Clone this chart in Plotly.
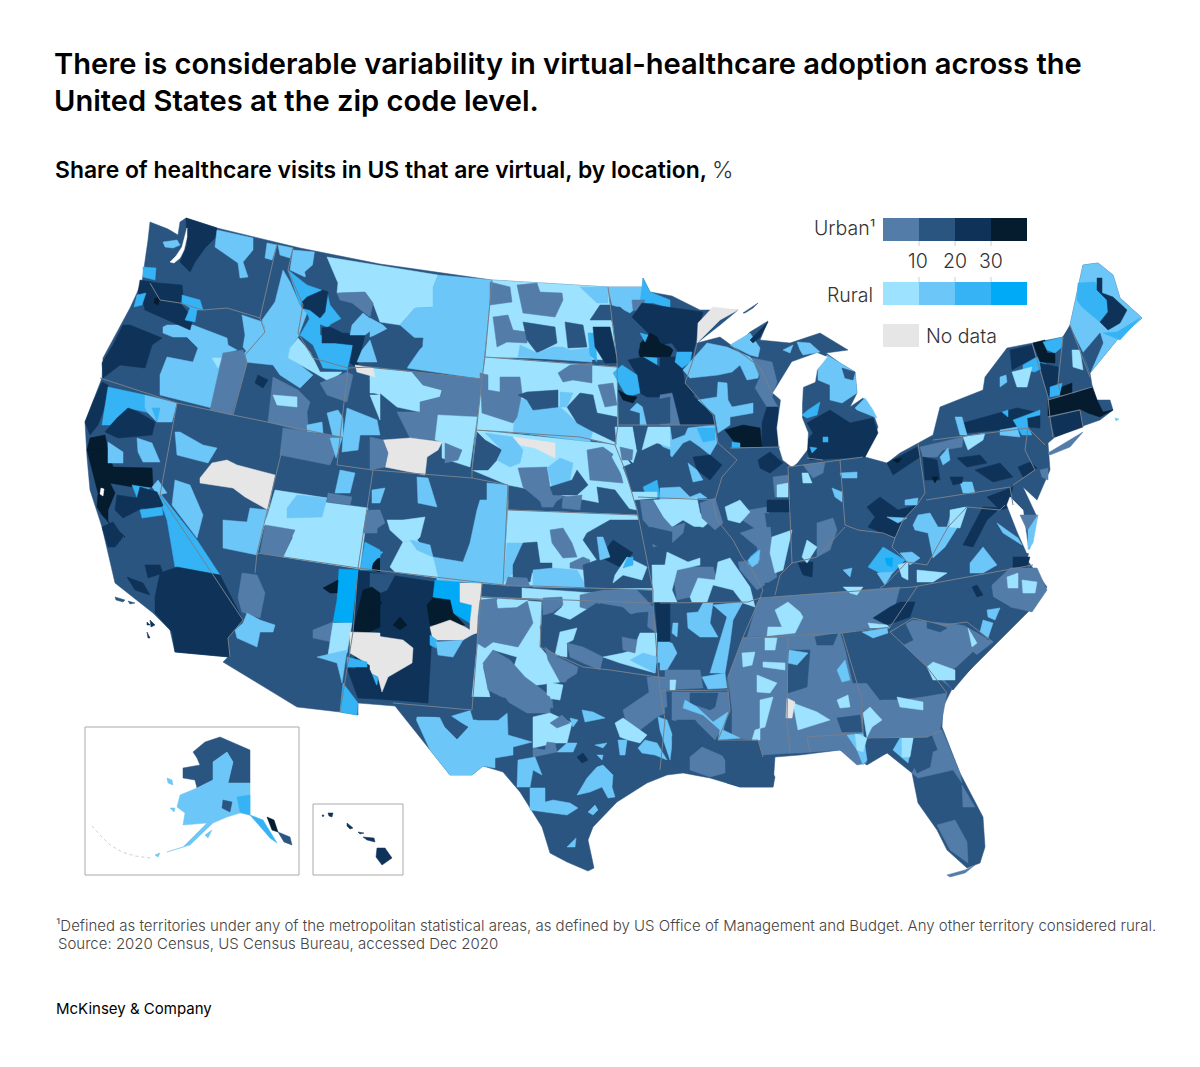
import plotly.graph_objects as go

TITLE = ["There is considerable variability in virtual-healthcare adoption across the",
         "United States at the zip code level."]
SUBTITLE_BOLD = "Share of healthcare visits in US that are virtual, by location,"
SUBTITLE_UNIT = "%"
FOOTNOTE = ["¹Defined as territories under any of the metropolitan statistical areas, as defined by US Office of Management and Budget. Any other territory considered rural.",
            "Source: 2020 Census, US Census Bureau, accessed Dec 2020"]
CREDIT = "McKinsey & Company"
legend_ticks = ["10", "20", "30"]
urban_classes = ["u1", "u2", "u3", "u4"]
rural_classes = ["r1", "r2", "r3", "r4"]

COLORS = {"u1": "#547ca8", "u2": "#2a5580", "u3": "#0f3358", "u4": "#051b2e",
          "r1": "#9de3ff", "r2": "#6cc6f7", "r3": "#35b3f5", "r4": "#00aaf7",
          "na": "#e6e6e6", "w": "#ffffff"}

# map outlines, in map units
us_outline = ("150,222 168,229 178,235 180,222 186,218 217,228 300,248 380,264 492,280 608,287 643,287 643,278 650,292 672,296 700,310 738,310 "
 "720,325 697,343 720,337 735,348 750,332 768,321 760,340 790,343 820,333 848,350 826,353 840,363 855,372 857,393 850,407 863,398 873,413 878,427 865,457 "
 "887,463 900,453 918,443 933,435 940,407 983,390 985,377 1007,348 1033,343 1063,337 1070,325 1083,265 1098,263 1113,275 1120,298 1142,318 1117,340 1090,373 "
 "1092,385 1097,400 1110,400 1113,410 1100,420 1080,427 1055,437 1048,443 1050,470 1037,500 1023,487 1037,517 1027,560 1047,587 1030,610 1003,637 977,663 953,687 943,707 942,727 "
 "960,773 983,817 985,847 980,863 967,868 947,850 937,830 918,803 912,773 887,753 867,765 840,750 800,755 775,757 773,787 740,787 710,778 683,773 667,775 647,783 "
 "617,802 593,827 588,840 594,868 588,871 567,862 550,853 542,827 520,792 503,772 483,766 472,775 450,775 430,750 395,706 358,703 358,715 340,712 297,707 223,662 228,657 175,652 170,630 153,613 115,583 "
 "102,527 90,490 87,457 85,422 102,378 103,358 130,308 142,282 148,240")
long_island = "1048,453 1077,435 1083,432 1070,447 1050,455"
aleutian_chain = "92,826 100,835 110,845 122,852 135,856 150,858"

state_lines = [
 "277,244 260,318", "150,283 160,300 180,303 203,310 227,308 260,318 265,332 245,355 247,363 233,415",
 "100,378 177,403 233,415 340,437", "293,248 288,270 303,305 298,333 313,358 348,368 340,437 337,465 373,470",
 "348,368 370,367 482,379", "492,280 485,357 482,379 476,430 472,470 472,478", "373,470 472,478 508,485 503,585",
 "177,403 160,495 243,620 228,638 230,657", "282,450 257,553 255,573", "257,553 358,568", "373,470 358,568 353,632 340,712",
 "358,568 503,585 653,590", "485,357 617,367", "608,287 617,360 618,425 615,445 625,470 637,510 653,590 653,603 658,670 660,691 665,720 660,770",
 "476,430 580,437 615,445", "508,485 508,510 637,515", "618,425 715,425", "697,343 693,360 685,383 713,415 715,425 718,443 737,460 722,477 715,500",
 "638,497 715,500 713,503 717,520 733,540 742,557 752,570 763,590 760,598", "730,448 780,447", "482,597 542,600 540,647 583,667 610,670 665,678", "482,583 472,710 393,703",
 "482,597 653,603", "660,603 748,602 760,598 743,637 728,677 728,690 660,691", "730,710 718,740 758,740 763,757", "728,690 730,710",
 "743,638 842,633 862,700 863,733 807,737 810,752", "788,637 787,723 790,753", "760,598 913,587 1033,565", "917,587 890,627 842,633",
 "890,632 913,618 943,625 967,622 993,642", "890,632 927,667 947,693", "867,738 927,737 942,730",
 "788,467 840,460 863,457", "788,467 792,553 792,563", "840,460 845,525 858,530 883,533 895,538 903,520 917,505 925,493 923,478 918,443",
 "845,527 833,540 817,557 792,563 780,575 775,595", "926,500 1010,487 1013,505", "933,440 1028,428 1025,450 1035,470 1013,485", "1028,428 1045,445",
 "1032,343 1048,397 1050,418 1053,437", "1048,400 1092,387", "1048,417 1080,410 1083,427", "1063,337 1058,383 1060,390", "1070,325 1090,377",
 "895,538 892,547 907,562 885,585 880,588", "907,562 927,565 948,527 967,507 1000,510 1005,505", "772,393 760,367 730,345",
 "823,460 807,458"]

broad_regions = [
 ("u1","743,638 840,633 862,700 863,733 810,737 793,753 760,755 758,740 732,738 732,710 728,677"),
 ("u1","790,717 863,733 867,763 857,765 840,750 800,753 788,753"),
 ("u1","853,683 867,683 880,700 900,700 923,697 947,693 940,730 927,737 867,738 862,700"),
 ("u1","760,598 900,587 890,625 842,633 747,637 757,603"),
 ("u1","890,632 913,620 963,625 993,642 970,660 953,690 927,667"),
 ("u1","990,587 1010,568 1037,568 1047,590 1032,612 1010,607 993,597"),
 ("u1","930,730 942,730 960,773 962,783 953,770 940,773 918,778 912,773 920,757 938,750"),
 ("u1","962,785 975,807 963,807"),
 ("u1","937,825 955,820 967,842 968,863 950,850"),
 ("r1","508,510 637,515 653,590 503,585"),
 ("r1","476,430 620,445 628,480 637,510 508,485 472,470"),
 ("r1","485,357 617,367 618,425 615,445 580,437 476,430 482,379"),
 ("r1","492,280 608,287 617,360 485,357"),
 ("r2","1070,325 1083,265 1098,263 1113,275 1120,298 1142,318 1117,340 1090,373"),
 ("u3","358,570 435,582 428,703 393,700 358,695 352,630"),
]

northwest_regions = [
 ("u3","186,218 217,228 215,238 205,248 195,262 190,272 180,262 187,245"),
 ("r2","217,230 253,238 253,250 243,262 248,277 240,278 238,263 227,255 215,247"),
 ("r2","267,243 277,245 272,260 265,258"), ("r2","278,245 293,248 290,258 280,255"),
 ("r2","283,270 290,282 300,305 307,313 298,337 290,348 288,358 300,365 313,375 300,388 280,375 273,365 245,362 243,355 265,328 262,320 275,302 280,282"),
 ("r1","290,348 298,338 310,352 320,372 342,372 330,382 313,372 300,365 288,358"),
 ("r2","242,315 263,322 265,330 247,352 243,347 245,335"),
 ("r2","163,327 167,325 193,325 227,338 228,345 237,350 223,355 212,408 160,395 160,375 167,357 193,362 198,348 187,337 173,337 163,333"),
 ("r1","212,358 222,358 218,368"),
 ("u1","223,353 243,350 247,363 232,415 210,410"),
 ("u3","130,325 162,338 152,345 145,368 120,365 103,378 102,363 113,345 123,325"),
 ("u3","140,280 158,283 182,285 183,295 180,303 193,318 190,330 163,318 145,310 143,302 138,292"),
 ("u4","155,298 160,298 158,305 154,303"),
 ("r3","137,295 146,293 142,305 134,307"),
 ("r3","182,295 200,300 203,310 197,310 195,322 185,320 190,308 182,303"),
 ("r3","143,267 156,268 155,280 143,277"),
 ("r2","163,242 177,240 180,245 173,248 165,247"),
 ("w","182,247 185,236 187,228 187,237 184,250 180,258 174,263 170,262 176,256"),
 ("r3","288,270 307,285 327,292 330,305 342,320 327,327 310,320 307,313 300,305"),
 ("r2","293,250 315,252 313,268 305,277 290,270"),
 ("u2","315,252 327,257 338,283 333,293 323,293 320,280 307,280 305,272 313,265"),
 ("u3","302,302 307,297 323,290 328,292 325,312 320,318 310,310 302,308"),
 ("r3","310,318 320,320 320,335 353,345 347,370 323,368 313,345 300,335"),
 ("u3","322,328 330,327 343,333 365,335 357,368 350,363 353,345 335,343 322,343"),
 ("r1","327,257 438,275 433,288 433,307 415,308 400,325 380,322 373,303 365,292 337,293 338,283"),
 ("u2","333,293 340,300 352,303 343,333 330,325 343,318 337,308"),
 ("u1","337,293 365,292 373,303 370,317 352,303 340,300"),
 ("r2","352,325 363,313 378,325 365,335 350,335"),
 ("r2","438,275 492,280 482,379 407,368 423,345 400,325 415,308 433,307 433,288"),
 ("r2","370,318 383,325 390,332 370,337"),
 ("u2","395,325 402,338 423,338 422,347 407,358 407,368 373,363 380,343 370,338"),
 ("r2","370,340 377,362 357,362 362,350"),
 ("r1","370,368 412,372 423,385 442,390 440,397 420,402 420,412 397,407 380,393 370,393"),
 ("u1","412,372 482,379 477,417 438,415 435,440 410,438 397,412 420,412 420,402 440,397 442,390 423,385"),
 ("r1","438,415 477,417 470,467 442,458 442,442 435,440"),
 ("na","383,440 410,438 442,442 438,450 427,457 425,475 385,467 388,453"),
 ("u1","370,437 383,440 388,453 385,467 370,470"),
 ("u1","445,443 462,450 458,460 445,463"),
 ("r2","347,408 377,420 380,435 360,435 358,450 342,452 343,437"),
 ("r1","370,395 380,395 380,420"),
 ("na","355,365 373,368 375,377 357,372"),
 ("r1","370,377 380,378 380,395 372,392"),
 ("u1","273,377 298,390 310,402 307,412 308,425 305,432 268,422"),
 ("r1","273,395 297,397 297,407 277,405"),
 ("u1","320,383 347,372 353,375 347,402 327,395"),
 ("r2","327,413 338,410 343,418 343,437 333,437"),
 ("r2","307,425 322,422 323,433 307,432"),
 ("u3","258,375 268,380 263,388 255,383"),
]

southwest_regions = [
 ("u1","283,428 342,437 330,465 280,455"),
 ("r2","330,438 342,438 336,458"),
 ("r2","175,432 180,432 203,445 217,448 208,463 177,455"),
 ("na","200,478 212,463 227,460 237,465 275,475 268,510 245,497 233,488 200,483"),
 ("r2","175,480 190,485 203,515 197,538 172,505"),
 ("r2","223,520 247,522 250,508 268,510 257,555 223,548"),
 ("r1","275,490 327,498 323,502 368,508 360,569 283,557 293,537 263,525 267,517"),
 ("r2","297,495 327,498 322,517 287,518 287,508"),
 ("u1","265,525 295,530 283,557 260,553"),
 ("u1","328,493 352,497 350,505 327,502"),
 ("r2","340,470 355,473 350,493 335,493"),
 ("u1","367,510 378,513 377,533 363,533"),
 ("r3","365,542 380,550 380,570 360,570"),
 ("u4","373,560 380,558 380,572 372,570"),
 ("u4","90,438 105,435 108,450 87,450"),
 ("u4","87,450 108,450 113,467 152,468 153,487 133,487 110,483 115,493 108,510 108,522 125,537 113,527 102,515 97,507 98,493 92,470"),
 ("u3","102,382 108,385 108,398 102,415 98,425 90,435 85,422 93,402"),
 ("r3","108,387 145,395 145,408 157,418 150,413 128,408 110,425 102,425"),
 ("r2","145,395 177,403 172,422 157,422 148,413 145,408"),
 ("r3","152,408 160,408 157,422"),
 ("u3","128,408 138,412 155,422 152,435 118,438 105,432 117,418"),
 ("r2","108,442 123,452 123,463 108,463"),
 ("r2","137,438 152,443 160,462 143,462 138,452"),
 ("r3","132,485 150,488 138,500"),
 ("r3","158,495 167,520 175,567 220,575 197,540 160,493"),
 ("r2","158,480 167,493 158,495 152,487"),
 ("u3","117,495 137,498 140,487 157,492 163,505 160,510 142,508 123,518 115,510"),
 ("r3","140,510 162,507 163,515 142,518"),
 ("u3","102,527 113,522 123,537 115,547 108,547"),
 ("u3","177,567 220,575 243,620 228,638 230,657 175,652 172,632 155,613 155,597 160,573"),
 ("u3","145,565 160,565 163,573 148,578"), ("u3","127,577 143,583 150,595 135,590"),
 ("w","101,488 104,489 103,496 100,494"),
 ("u1","242,573 257,575 265,593 260,618 242,612 238,598"),
 ("r2","247,613 260,620 275,625 273,632 260,632 257,647 237,638 235,630 243,623"),
 ("u1","313,630 333,622 332,642 313,638"),
 ("r4","339,569 358,570 352,623 333,622 337,600"),
 ("r1","333,623 352,623 347,653 328,655"),
 ("r2","317,657 337,652 347,650 342,683 337,663"),
 ("u4","323,588 338,580 337,593 330,593"),
 ("u2","433,680 435,633 477,633 470,708 432,703"),
 ("u2","370,573 395,575 387,590 370,597"),
 ("r4","435,580 460,582 460,602 472,605 470,623 453,613 450,600 433,597"),
 ("na","460,583 482,583 477,633 470,635 470,623 472,605 460,602"),
 ("u4","427,605 433,598 450,600 453,613 465,625 450,625 430,625"),
 ("na","430,627 450,620 465,627 475,633 463,640 447,640 433,640"),
 ("r3","430,635 437,640 436,648 430,645"),
 ("r2","436,642 463,640 453,657 438,655"),
 ("u4","353,632 363,590 372,587 380,593 380,627 367,633"),
 ("u4","370,598 382,602 373,617 370,613"),
 ("u4","393,625 400,617 407,625 400,630"),
 ("na","370,635 403,640 413,648 412,663 388,677 382,692 378,677 370,673"),
 ("na","350,632 380,633 380,673 373,667 350,653"),
 ("r3","370,673 378,677 377,685 370,683"),
 ("r3","347,657 367,662 367,667 347,667"),
 ("r3","343,683 358,703 357,715 340,712"),
 ("u3","347,668 370,670 380,695 393,700 358,698"),
 ("r2","487,483 508,485 507,510 487,510"),
 ("r2","480,500 508,500 503,585 437,580 433,557 463,562 470,543 477,510"),
 ("r1","390,567 403,542 417,540 433,557 438,578 395,572"),
 ("r1","387,520 403,520 425,517 420,537 417,540 403,542 390,530"),
 ("u1","370,510 380,510 385,523 370,533"),
 ("r3","370,550 383,552 373,563 370,570"),
 ("r2","410,540 430,545 433,557 417,550"),
 ("r2","417,477 428,478 437,507 418,503"),
 ("r2","372,490 385,488 380,503 372,503"),
]

plains_regions = [
 ("u2","477,432 485,440 502,450 497,460 488,470 472,470"),
 ("r2","485,433 513,437 523,450 520,463 510,467 497,460 502,450"),
 ("na","513,437 555,443 555,458 535,448 520,445"),
 ("u1","518,468 547,467 550,487 563,497 547,507 523,487"),
 ("r2","547,468 560,458 573,463 570,480 552,487"),
 ("u2","550,487 572,480 577,470 588,485 577,495 553,495"),
 ("u1","587,450 603,447 617,457 623,483 590,480"),
 ("u2","597,487 615,490 630,510 600,510"),
 ("u1","563,497 582,495 580,510 562,508"),
 ("r2","517,398 560,407 567,413 577,423 593,430 590,442 513,432"),
 ("u1","480,373 488,375 488,390 500,392 500,377 520,377 522,393 517,417 513,423 482,413"),
 ("u2","518,395 527,392 558,390 558,407 533,410 527,400"),
 ("u1","558,373 570,365 592,363 592,383 573,380 563,382"),
 ("u2","567,407 580,393 593,395 597,413 617,417 617,443 590,430 577,423"),
 ("u1","598,385 613,383 617,405 605,407"),
 ("r2","560,392 573,393 567,407 560,407"),
 ("u1","490,282 510,287 512,302 490,305"),
 ("u1","517,285 537,283 540,292 562,293 563,300 555,317 523,313"),
 ("u1","493,317 508,315 513,330 527,332 527,343 507,342 497,347"),
 ("u2","523,322 555,327 557,343 537,353 527,340"),
 ("u2","565,322 583,325 587,347 568,348"),
 ("r2","520,345 537,353 553,347 563,347 570,350 590,348 592,362 518,357"),
 ("r2","580,287 608,287 608,303 597,303"),
 ("r3","588,333 595,333 597,362 590,355"),
 ("u2","590,320 600,305 610,305 612,320"),
 ("u3","593,327 610,327 618,363 605,363 595,347"),
 ("r2","507,543 522,543 517,570 503,583"),
 ("u2","513,565 523,543 537,542 540,563 552,563 552,578 540,582 532,572 530,582 513,577"),
 ("u1","508,577 527,578 530,587 505,586"),
 ("r2","533,570 553,568 577,570 587,588 533,587"),
 ("u1","550,530 563,528 572,543 577,557 563,558 552,543"),
 ("u1","570,563 583,557 590,560 588,570 570,568"),
 ("u2","587,533 610,520 643,520 653,540 652,588 585,588 583,565 597,560 583,540"),
 ("u3","600,557 613,540 633,553 620,567"),
 ("r2","597,537 603,537 610,557 600,560"),
 ("r1","627,557 647,567 642,580 623,575 613,583 615,575"),
 ("r3","627,558 633,557 633,565 623,568"),
 ("u1","540,500 557,500 553,507 542,507"),
 ("r1","481,597 542,602 540,647 560,670 560,682 523,687 513,670 517,657 493,650 483,667 490,697 472,697 477,647"),
 ("u1","480,600 497,598 497,605 527,600 533,623 518,647 493,642 485,648 477,643 478,617"),
 ("r1","497,600 528,600 517,607 498,608"),
 ("u1","483,663 493,650 510,660 525,677 552,697 553,708 510,703 502,697 488,690"),
 ("r1","547,682 563,685 560,700 547,698"),
 ("r1","522,588 593,593 583,600 590,610 570,620 553,615 562,607 562,597 542,600 522,598"),
 ("u1","543,598 562,597 563,605 552,613 543,615"),
 ("u1","580,595 590,593 603,590 637,590 653,607 657,633 637,620 623,607 600,603 590,610 580,607"),
 ("u2","550,613 570,620 597,603 610,620 637,613 648,612 647,627 623,632 610,630 617,643 607,653 592,647 580,640 567,632 557,637 543,640 540,627"),
 ("r1","560,632 577,628 573,640 567,643 567,657 555,655"),
 ("r1","640,633 657,633 655,673 620,663 603,657 623,653 633,650"),
 ("r2","643,653 657,657 655,673 630,660"),
 ("u1","567,643 583,647 603,657 600,670 583,663 570,657"),
 ("u1","622,637 637,640 635,653 623,650"),
 ("u1","545,647 558,657 578,667 575,682 560,682 548,660"),
 ("r2","415,717 440,717 457,739 468,727 447,713 470,710 473,720 498,720 507,710 508,735 532,742 513,747 513,755 495,758 495,768 483,766 472,775 450,775 430,750"),
 ("u2","397,707 432,707 470,710 447,717 468,727 457,739 445,727 440,717 417,715 415,723"),
 ("u2","472,697 507,698 508,712 498,720 477,720"),
 ("u2","567,680 583,670 610,670 647,680 647,692 623,700 633,707 620,707 617,717 603,722 583,710 570,713 560,703"),
 ("u1","490,680 520,680 550,697 550,713 527,713 510,703"),
 ("r1","533,717 550,713 572,723 567,743 555,743 533,748"),
 ("u1","550,723 562,715 570,723 557,728"),
 ("r2","557,752 567,743 577,743 573,752"),
 ("u1","533,748 545,750 547,742 555,743 557,752 533,757"),
 ("r2","518,760 535,757 542,775 533,770 530,787 517,787"),
 ("r2","530,788 545,788 545,802 553,800 570,803 578,808 567,815 530,810"),
 ("r2","595,805 598,810 593,815 588,812"),
 ("r2","597,767 603,765 613,775 612,787 615,797 608,798 602,787 590,792 577,795 587,778"),
 ("r2","595,745 607,743 603,748"), ("r2","597,755 603,755 602,760"),
 ("r2","567,847 576,838 575,847"),
 ("u3","577,757 583,753 588,760 582,763"),
 ("r2","582,710 593,712 605,718 585,722"),
 ("r2","570,718 578,720 573,727"),
 ("u1","623,710 648,693 663,690 665,713 657,717 640,730 628,730"),
 ("u1","647,677 665,677 667,707 657,708 650,700"),
 ("r1","615,723 623,718 647,735 640,743 628,740 620,737"),
 ("r2","618,740 627,740 625,755 620,755"),
 ("r2","638,748 645,740 657,743 667,760 655,755 642,753"),
 ("r2","658,717 667,720 673,737 670,760 660,730"),
]

midwest_regions = [
 ("r2","608,287 643,287 642,303 630,313 618,307 612,305"),
 ("r3","643,278 650,292 670,300 670,308 653,303 640,303"),
 ("u2","610,307 620,307 632,318 627,328 612,322"),
 ("u1","632,300 645,300 642,312 633,310"),
 ("u3","632,317 642,303 660,306 703,312 695,345 692,357 680,355 672,343 660,345 650,335 640,325"),
 ("u4","637,347 650,333 657,337 660,343 670,347 673,350 670,357 640,357"),
 ("r3","640,333 648,335 645,342"),
 ("r3","643,357 657,358 657,367 647,367"),
 ("u2","615,330 627,333 640,345 637,357 627,362 618,363"),
 ("u3","628,360 643,357 660,367 670,365 670,397 647,397 640,393 637,375"),
 ("r3","613,373 622,365 637,375 640,393 627,397 620,385"),
 ("u3","660,357 680,357 685,383 695,395 672,400 660,397"),
 ("u3","672,393 690,393 713,415 715,425 672,425"),
 ("u1","660,395 672,393 680,425 660,425"),
 ("r3","677,352 692,352 690,362 682,368 675,362"),
 ("u4","618,390 627,395 637,397 633,403 623,400"),
 ("u2","622,413 640,413 638,425 622,425"),
 ("r2","637,403 647,410 647,425 640,425 640,413 630,410"),
 ("u2","642,403 670,397 670,423 647,425"),
 ("r2","683,370 707,343 727,347 750,357 760,367 758,378 747,380 740,365 732,372 718,375 690,378"),
 ("r2","730,345 750,333 760,348 758,357 750,355"),
 ("u1","752,358 772,362 777,382 772,397 778,407 767,407 755,388 760,377"),
 ("r2","718,382 727,383 728,400 732,407 753,403 753,413 730,417 730,425 718,433 715,415 698,400 717,397"),
 ("u3","767,407 778,407 778,447 762,447 762,423"),
 ("u4","725,430 743,425 760,428 762,447 738,447"),
 ("r3","732,442 740,443 740,448 732,448"),
 ("r2","797,342 810,343 820,352 803,355 800,350"),
 ("r2","783,350 793,345 790,353"),
 ("u3","750,340 768,322 760,337 753,343"),
 ("u2","743,313 758,303 753,308 745,313"),
 ("na","698,323 713,307 738,310 720,320 698,342 697,343"),
 ("r2","818,370 827,355 840,363 855,372 857,393 842,403 830,400 830,385 818,380"),
 ("u2","842,368 855,372 853,380 845,378"),
 ("r2","855,408 865,398 873,410 877,418 857,410"),
 ("u3","807,423 830,410 850,423 873,418 878,433 865,457 810,460 805,443 813,433"),
 ("r3","802,415 808,410 820,402 817,415 807,418"),
 ("r3","823,437 828,437 828,442 823,442"),
 ("r3","810,447 817,448 812,453"),
 ("w","773,393 792,362 817,353 827,357 817,370 815,382 803,387 802,403 802,418 808,433 807,450 797,463 792,467 783,460 779,447 777,428 781,400"),
 ("r2","660,428 670,427 672,440 685,435 688,428 715,425 717,443 710,455 700,447 690,440 683,443 672,457 665,450 660,443"),
 ("r3","697,428 715,428 715,440 703,442"),
 ("u3","693,457 710,455 722,465 710,480 697,470"),
 ("r2","688,463 697,470 703,480 693,482"),
 ("r2","660,488 680,487 690,497 700,493 707,498 660,500"),
 ("r1","615,427 633,427 637,450 633,463 617,447"),
 ("u2","633,427 648,427 642,450 637,450"),
 ("r1","648,427 670,427 670,447 657,443 642,450"),
 ("u2","642,457 657,445 670,450 670,480 653,480 642,467"),
 ("r3","643,487 657,480 660,497 647,498"),
 ("r1","618,447 633,467 623,477 612,457"),
 ("u1","620,447 633,450 632,460 622,460"),
 ("u2","623,467 633,463 643,487 633,493"),
 ("r1","632,492 657,492 657,498 633,500"),
 ("u1","773,477 788,475 788,497 775,497"),
 ("r1","777,485 788,483 788,497 777,497"),
 ("u3","758,460 770,452 783,463 770,473 760,468"),
 # Missouri and southern Illinois
 ("r1","653,500 697,498 700,513 708,523 700,530 683,520 672,527 668,527 663,517"),
 ("u1","640,500 653,500 663,517 672,527 685,523 683,533 672,543 653,547 652,530 643,520"),
 ("u2","650,527 672,532 672,547 663,550 652,543"),
 ("u2","685,527 700,527 717,532 715,545 687,543"),
 ("u1","700,503 715,498 723,523 715,530 702,518"),
 ("u2","715,533 743,533 738,560 717,557"),
 ("u1","730,513 767,507 772,523 757,530 747,523"),
 ("r1","725,507 740,500 750,512 740,523 728,520"),
 ("u1","740,533 770,523 773,557 760,562 757,547"),
 ("u3","767,500 790,500 790,512 767,512"),
 ("u2","765,513 783,517 783,525 767,527"),
 ("u1","738,562 773,557 777,577 757,590 740,570"),
 ("r1","772,537 792,530 783,570 775,573 770,553"),
 ("r3","750,557 758,550 760,560 748,565"),
 ("u2","765,583 777,583 783,593 767,598"),
 ("u1","672,567 713,567 717,580 698,578 690,597 677,600"),
 ("r1","652,565 665,565 667,552 688,562 700,558 700,565 677,570 672,590 677,602 653,602"),
 ("r1","690,597 698,578 715,580 718,562 730,558 740,573 750,587 755,607 743,603 733,590 713,585 707,602 692,602"),
 ("u3","655,603 670,603 670,642 658,642"),
 ("r2","658,642 670,642 668,660 657,663"),
]

south_regions = [
 ("r2","687,613 698,612 703,603 713,603 710,623 718,637 700,637 688,628"),
 ("r2","713,605 743,602 733,620 730,643 725,673 710,673 717,650 727,617"),
 ("r2","673,623 678,623 677,637 672,633"),
 ("r2","660,643 672,643 677,653 667,670 660,670"),
 ("u1","665,670 700,670 703,688 665,690"),
 ("r2","702,677 725,673 727,688 708,689"),
 ("r1","670,680 676,680 675,690 670,690"),
 ("u1","672,692 728,692 730,712 715,740 700,725 672,720"),
 ("u2","690,693 718,693 715,707 710,710 690,703"),
 ("r2","685,700 697,707 713,722 728,712 723,730 740,738 718,740 720,730 703,715 683,708"),
 ("u2","677,720 695,720 703,730 700,747 690,757 673,767 672,737"),
 ("u1","690,757 702,747 725,757 725,773 710,777 690,770"),
 ("u2","715,742 758,740 763,757 775,777 773,787 740,787 727,783 727,763"),
 ("u2","842,633 890,633 927,670 900,687 880,700 867,683 853,683"),
 ("u2","788,650 810,650 807,687 788,693"),
 ("r2","789,650 808,653 797,665 788,663"),
 ("u2","815,637 838,633 833,645 817,645"),
 ("u2","837,718 860,715 862,732 842,732"),
 ("r1","793,703 817,712 830,720 807,727 798,730"),
 ("na","787,698 795,702 792,718 786,718"),
 ("r1","757,675 777,683 770,693 757,692"),
 ("r1","760,700 773,697 765,727 755,730 752,740 760,740"),
 ("r1","742,653 755,652 752,665 743,667"),
 ("r1","763,662 785,663 785,670 763,667"),
 ("r1","765,638 777,638 775,650 765,650"),
 ("r1","837,700 848,695 850,707 840,708"),
 ("r2","837,670 845,660 850,680 842,682"),
 ("r1","863,713 870,707 882,720 872,727 867,737"),
 ("r1","897,697 923,702 923,710 900,707"),
 ("r2","900,738 913,738 908,763 893,750"),
 ("r1","902,738 913,738 910,757 902,757"),
 ("u2","870,738 897,738 887,753 877,757"),
 ("u2","910,757 933,750 930,767 917,773"),
 ("r2","847,735 863,733 867,760 863,765 857,750"),
 ("r1","855,733 867,738 863,752 857,750"),
 ("r1","775,610 788,602 800,612 803,617 795,633 767,636 768,627 782,627"),
 ("u2","767,583 783,588 787,593 763,598"),
 ("u2","913,587 990,577 993,597 1010,607 1000,630 988,640 977,620 963,625 933,618 913,618 913,602"),
 ("u3","873,618 890,607 900,602 915,602 910,617 887,625"),
 ("r1","868,623 887,625 890,628 870,628"),
 ("r2","862,632 887,628 888,633 873,638"),
 ("u3","972,587 977,585 983,595 977,597"),
 ("r2","987,610 1000,608 995,620 988,617"),
 ("r2","983,620 993,623 988,638 980,632"),
 ("r1","1007,577 1018,573 1018,588 1008,588"),
 ("r1","1022,580 1037,582 1035,593 1023,593"),
 ("u2","890,633 905,623 913,640 903,645"),
 ("u2","927,620 947,628 940,632 927,628"),
 ("u2","957,667 973,652 980,658 953,690 942,677"),
 ("r1","933,662 955,670 955,680 933,680 927,667"),
 ("r1","968,628 977,643 972,647"),
 ("r2","748,560 760,550 758,563 752,567"),
 ("u1","817,523 833,518 837,530 830,550 817,557"),
 ("u3","798,563 813,562 812,577 803,575"),
 ("r3","868,567 883,547 905,560 893,573 880,573"),
 ("r2","877,573 893,572 885,585"),
 ("r4","885,558 893,558 892,567 887,565"),
 ("r2","900,553 912,552 920,558 910,565"),
 ("r1","898,565 908,562 908,580 902,577"),
 ("r2","913,525 918,515 930,513 938,527 947,527 952,510 965,507 957,528 945,547 933,558 928,533 915,530"),
 ("r1","950,510 967,507 960,528 950,527"),
 ("r2","970,563 983,547 997,565 983,573 970,573"),
 ("r1","917,570 947,573 933,582 917,582"),
 ("u3","963,545 983,507 1000,508 987,520 973,547"),
 ("u3","1013,557 1030,557 1027,567 1013,567"),
 ("r2","843,570 852,568 850,577"),
 ("r1","843,587 863,587 857,595 850,593"),
 ("r1","807,540 817,547 807,563 802,557"),
 ("r2","997,523 1018,538 1022,545 1003,533"),
]

northeast_regions = [
 ("u3","867,507 880,497 898,510 917,505 902,520 895,537 882,533 868,527 875,517"),
 ("r2","887,517 907,518 898,523"),
 ("r2","905,500 918,498 917,505 905,505"),
 ("u3","887,463 917,447 920,457 893,475"),
 ("u4","893,460 902,458 898,463"),
 ("r2","840,473 857,472 857,478 842,478"),
 ("r1","802,473 808,473 812,483 803,483"),
 ("r2","832,488 842,492 842,502 835,497"),
 ("u1","803,465 825,462 823,473 813,478"),
 ("u3","1010,350 1032,345 1035,357 1012,370"),
 ("r3","1023,365 1037,357 1047,365 1035,372 1023,370"),
 ("r1","1012,372 1032,367 1027,387 1017,387"),
 ("r2","1000,377 1006,375 1007,382 1000,387"),
 ("u4","1033,343 1045,340 1047,353 1055,353 1055,363 1040,362"),
 ("r3","1043,342 1063,337 1062,347 1055,353 1047,350"),
 ("u3","1040,363 1058,367 1058,383 1048,397 1043,378"),
 ("r3","1050,387 1062,383 1060,395 1050,397"),
 ("u4","1062,387 1072,383 1072,395 1060,395"),
 ("u2","1063,337 1070,327 1083,353 1090,377 1060,383"),
 ("r1","1072,350 1080,350 1083,370 1073,367"),
 ("u4","1048,400 1072,394 1092,387 1097,400 1103,412 1113,410 1100,417 1088,413 1080,409 1048,416"),
 ("u3","1050,418 1080,410 1083,427 1055,437"),
 ("r3","1078,283 1095,282 1102,295 1110,300 1107,313 1100,322 1082,307 1077,300"),
 ("r3","1117,332 1140,318 1120,340 1103,333"),
 ("u3","1097,278 1102,278 1102,293 1113,297 1127,310 1120,323 1108,330 1100,322 1108,312 1107,300 1097,290"),
 ("u2","1083,353 1100,333 1103,343 1090,373"),
 ("u3","963,423 1000,413 1017,408 1040,413 1040,428 1028,427 967,433"),
 ("r3","1013,420 1040,410 1040,415 1027,418 1028,427 1032,435 1022,435"),
 ("r3","1002,412 1008,410 1008,417"),
 ("r2","955,417 962,417 967,435 960,435"),
 ("r1","963,437 985,433 983,440 968,450"),
 ("r2","1000,430 1017,427 1020,437 1000,435"),
 ("u1","920,447 963,437 962,447 943,450 937,457 923,457"),
 ("r2","940,457 948,448 950,460 943,465"),
 ("u3","923,457 937,460 940,480 925,480"),
 ("u4","932,477 938,477 935,483"),
 ("u3","957,458 980,455 987,463 967,467"),
 ("u3","975,470 1000,463 1013,477 993,482"),
 ("u3","1018,467 1030,462 1037,468 1023,477"),
 ("r2","960,482 972,482 975,493 963,493"),
 ("u3","950,477 963,477 962,483 953,485"),
 ("u3","987,497 1013,487 1008,508 1000,510"),
 ("u1","1040,470 1048,468 1048,480 1042,477"),
 ("w","1010,497 1023,510 1028,547 1032,553 1027,553 1018,533 1007,505"),
 ("u1","1020,515 1038,515 1033,530 1027,530"),
 ("r2","1028,530 1038,515 1033,543 1028,550"),
 ("r2","1115,418 1119,419 1116,421"),
]

islands_regions = [
 ("u1",long_island),
 ("u2","115,597 125,600 123,602 116,600"), ("u2","128,601 135,603 130,604"),
 ("u3","147,622 150,625 147,625"), ("u3","150,620 155,625 151,627"), ("u3","147,632 150,638 148,638"),
 ("u1","947,875 965,870 975,865 965,873 950,877"),
]

alaska_regions = [
 ("u2","193,752 205,742 220,737 250,750 250,783 230,788 228,783 233,762 227,752 213,762 213,780 197,788 195,780 183,778 183,768 200,765 197,758"),
 ("r2","213,762 227,752 233,762 228,783 250,783 250,815 240,813 227,817 213,823 190,845 167,852 183,847 195,835 207,823 183,825 185,813 177,807 180,795 197,788 213,780"),
 ("r3","237,797 250,795 250,815 240,812"),
 ("u2","223,800 232,802 230,812 222,808"),
 ("r3","250,815 263,820 277,843 270,838"),
 ("u4","267,817 274,820 278,832 272,830"),
 ("u2","278,832 290,837 292,845 284,842"),
 ("r2","167,778 172,780 173,785 168,783"),
 ("r2","170,808 175,808 174,812"),
 ("r2","205,835 212,830 208,838"),
 ("r2","155,855 160,853 158,857"),
]
hawaii_regions = [
 ("u3","328,813 333,813 332,817 329,816"), ("u3","322,815 324,815 323,817"),
 ("u3","347,823 353,828 350,829 347,826"), ("u3","358,832 364,833 360,834"),
 ("u3","363,837 374,838 375,842 367,840"), ("u3","377,848 385,848 392,858 382,865 376,857"),
]
inset_boxes = [(85, 727, 299, 875), (313, 804, 403, 875)]

def path_xy(path):
    xs, ys = [], []
    for pair in path.split():
        a, b = pair.split(",")
        xs.append(float(a)); ys.append(float(b))
    return xs, ys

fig = go.Figure()

def add_region(cls, path):
    xs, ys = path_xy(path)
    fig.add_trace(go.Scatter(x=xs + xs[:1], y=ys + ys[:1], mode="lines", fill="toself",
                             fillcolor=COLORS[cls], line=dict(color=COLORS[cls], width=0.5),
                             hoverinfo="skip", showlegend=False))

add_region("u2", us_outline)
for group in (broad_regions, northwest_regions, southwest_regions, plains_regions, midwest_regions,
              south_regions, northeast_regions, islands_regions, alaska_regions, hawaii_regions):
    for cls, path in group:
        add_region(cls, path)

for line in state_lines:
    xs, ys = path_xy(line)
    fig.add_trace(go.Scatter(x=xs, y=ys, mode="lines", line=dict(color="#75808c", width=1),
                             hoverinfo="skip", showlegend=False))
xs, ys = path_xy(aleutian_chain)
fig.add_trace(go.Scatter(x=xs, y=ys, mode="lines", line=dict(color="#c3d3df", width=1, dash="dot"),
                         hoverinfo="skip", showlegend=False))

shapes = []
for x0, y0, x1, y1 in inset_boxes:
    shapes.append(dict(type="rect", x0=x0, y0=y0, x1=x1, y1=y1, line=dict(color="#aaaaaa", width=1)))
edge = [883, 919, 955, 991, 1027]
for i, cls in enumerate(urban_classes):
    shapes.append(dict(type="rect", x0=edge[i], x1=edge[i+1], y0=218, y1=241, fillcolor=COLORS[cls], line_width=0))
for i, cls in enumerate(rural_classes):
    shapes.append(dict(type="rect", x0=edge[i], x1=edge[i+1], y0=282, y1=305, fillcolor=COLORS[cls], line_width=0))
shapes.append(dict(type="rect", x0=883, x1=919, y0=324, y1=347, fillcolor=COLORS["na"], line_width=0))
for x in edge[1:4]:
    shapes.append(dict(type="line", x0=x, x1=x, y0=241, y1=246, line=dict(color="#cccccc", width=1)))
    shapes.append(dict(type="line", x0=x, x1=x, y0=277, y1=282, line=dict(color="#cccccc", width=1)))

FONT = "Inter, Roboto, sans-serif"
def txt(x, y, s, size, color="#000000", anchor="left", weight=400):
    return dict(x=x, y=y, xref="x", yref="y", text=s, showarrow=False, xanchor=anchor, yanchor="middle",
                font=dict(family=FONT, size=size, color=color, weight=weight), align="left")

ann = [txt(52, 63, TITLE[0], 29.1, weight=600), txt(52, 100, TITLE[1], 29.1, weight=600),
       txt(53, 170, SUBTITLE_BOLD, 22.9, weight=600), txt(710, 170, SUBTITLE_UNIT, 22.9, color="#333333", weight=300),
       txt(877, 228, "Urban¹", 19.5, "#333333", "right", 300),
       txt(875, 295, "Rural", 19.5, "#333333", "right", 300),
       txt(924, 336, "No data", 19.5, "#333333", "left", 300),
       txt(54, 925, FOOTNOTE[0], 15, "#444444", weight=300), txt(56, 943, FOOTNOTE[1], 15, "#444444", weight=300),
       txt(54, 1008, CREDIT, 15, "#000000")]
for x, label in zip(edge[1:4], legend_ticks):
    ann.append(txt(x - 1 if label == "10" else x, 261, label, 19.5, "#333333", "center", 300))

fig.update_layout(width=1200, height=1067, margin=dict(l=0, r=0, t=0, b=0), paper_bgcolor="white", plot_bgcolor="white",
                  xaxis=dict(range=[0, 1200], visible=False, fixedrange=True),
                  yaxis=dict(range=[1067, 0], visible=False, fixedrange=True),
                  shapes=shapes, annotations=ann, showlegend=False)
fig.write_html("out.html", config={"displayModeBar": False}, post_script="document.body.style.margin='0';")
